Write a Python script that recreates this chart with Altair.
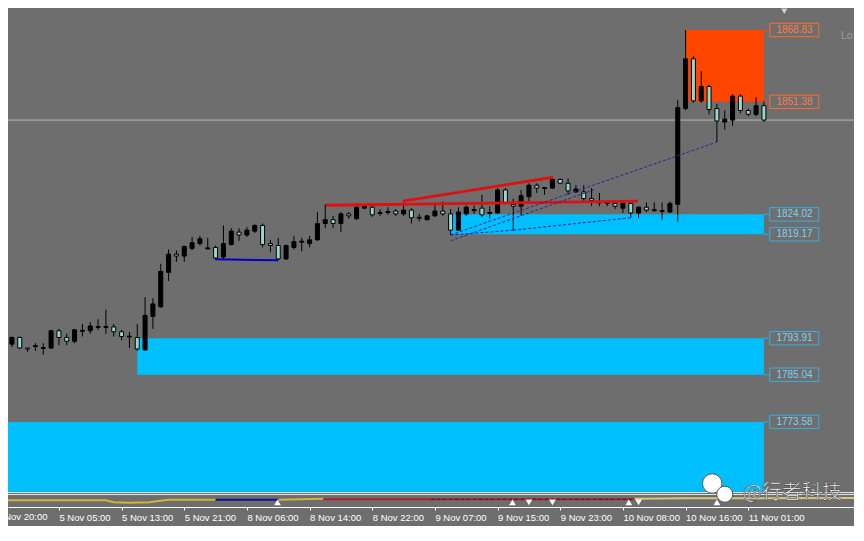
import altair as alt
import pandas as pd

BG = "#6e6e6e"
AQUA = "#97d6cf"
CYAN = "#00bfff"
ORANGE = "#ff4500"

# ---------------- candle data (hourly bars, index 0..96) ----------------
opens = [1792.47, 1794.10, 1791.54, 1791.89, 1791.42, 1791.54, 1795.73, 1794.10, 1793.17, 1795.61,
         1795.73, 1796.54, 1796.54, 1796.66, 1795.49, 1794.21, 1794.10, 1791.07, 1799.22, 1801.55,
         1809.93, 1814.35, 1813.89, 1815.75, 1816.91, 1815.63, 1815.98, 1813.65, 1816.68, 1819.71,
         1819.01, 1819.94, 1821.34, 1816.91, 1816.45, 1813.19, 1815.98, 1817.26, 1816.91, 1817.84,
         1821.80, 1822.73, 1821.80, 1824.13, 1822.96, 1825.53, 1825.76, 1824.24, 1824.48, 1824.83,
         1824.13, 1825.06, 1823.08, 1822.73, 1823.66, 1824.83, 1824.13, 1820.17, 1824.13, 1824.94,
         1825.53, 1824.24, 1824.36, 1829.95, 1826.46, 1825.99, 1828.32, 1831.11, 1830.30, 1830.41,
         1832.51, 1831.58, 1829.48, 1829.48, 1827.85, 1826.81, 1826.92, 1826.69, 1825.53, 1826.69,
         1824.36, 1825.76, 1824.94, 1824.71, 1824.59, 1826.46, 1849.74, 1861.84, 1851.60, 1855.09,
         1849.74, 1846.48, 1846.94, 1852.76, 1849.27, 1848.34, 1850.43]
highs = [1794.33, 1794.33, 1791.54, 1792.70, 1792.70, 1795.96, 1796.19, 1795.03, 1796.19, 1797.36,
         1797.82, 1798.52, 1800.85, 1797.36, 1795.96, 1795.49, 1797.36, 1803.87, 1803.64, 1812.02,
         1815.51, 1815.28, 1816.45, 1818.54, 1818.77, 1818.31, 1816.45, 1821.34, 1820.64, 1820.64,
         1820.87, 1821.57, 1821.80, 1817.84, 1818.31, 1816.68, 1818.77, 1818.31, 1818.77, 1824.59,
         1826.46, 1823.66, 1824.59, 1824.59, 1826.69, 1826.22, 1826.22, 1825.29, 1825.76, 1825.29,
         1826.92, 1825.53, 1824.13, 1823.90, 1826.46, 1827.15, 1825.29, 1825.76, 1826.22, 1826.22,
         1828.78, 1825.99, 1830.41, 1830.41, 1827.85, 1829.95, 1831.58, 1831.58, 1830.65, 1832.97,
         1832.74, 1832.74, 1831.11, 1831.11, 1830.41, 1829.25, 1827.15, 1827.15, 1826.92, 1826.92,
         1825.99, 1826.92, 1826.92, 1826.92, 1827.15, 1851.83, 1868.83, 1862.54, 1858.82, 1855.56,
         1850.90, 1849.27, 1853.23, 1853.23, 1849.74, 1852.53, 1851.60]
lows = [1791.77, 1791.30, 1790.61, 1790.84, 1789.91, 1791.30, 1792.23, 1792.23, 1792.70, 1794.33,
        1795.03, 1795.96, 1795.03, 1794.33, 1793.40, 1791.54, 1790.84, 1790.84, 1796.19, 1801.31,
        1807.83, 1812.49, 1812.49, 1815.28, 1816.45, 1815.51, 1812.95, 1813.19, 1816.45, 1817.61,
        1818.54, 1819.47, 1815.98, 1814.82, 1812.95, 1812.95, 1815.51, 1815.05, 1815.98, 1817.61,
        1820.64, 1820.64, 1819.71, 1822.96, 1822.73, 1825.29, 1823.43, 1823.66, 1823.90, 1823.66,
        1823.66, 1821.80, 1822.27, 1822.50, 1823.43, 1823.66, 1819.01, 1819.94, 1823.66, 1824.13,
        1823.43, 1822.96, 1824.13, 1826.46, 1820.17, 1823.66, 1827.15, 1829.25, 1828.78, 1830.18,
        1831.35, 1828.78, 1829.25, 1827.15, 1825.99, 1825.99, 1825.99, 1825.29, 1824.36, 1823.20,
        1823.20, 1824.59, 1824.59, 1822.73, 1824.36, 1822.27, 1849.27, 1851.13, 1851.13, 1848.34,
        1841.59, 1844.61, 1845.55, 1848.57, 1847.87, 1847.87, 1846.48]
closes = [1794.10, 1791.54, 1791.30, 1792.12, 1791.65, 1795.73, 1794.10, 1793.17, 1795.96, 1795.84,
          1796.89, 1796.77, 1796.77, 1795.49, 1794.33, 1794.45, 1791.30, 1799.45, 1802.25, 1810.16,
          1814.35, 1813.89, 1816.21, 1817.14, 1818.08, 1815.86, 1813.42, 1816.91, 1819.94, 1819.01,
          1820.17, 1821.34, 1816.68, 1816.45, 1813.19, 1816.45, 1817.38, 1817.49, 1817.84, 1821.80,
          1822.73, 1821.80, 1824.13, 1823.66, 1825.76, 1825.99, 1823.90, 1824.48, 1824.71, 1824.13,
          1825.06, 1823.20, 1823.31, 1823.66, 1824.83, 1824.13, 1820.17, 1824.59, 1825.76, 1825.18,
          1823.90, 1824.48, 1829.95, 1826.92, 1825.99, 1828.55, 1831.11, 1830.41, 1830.53, 1832.51,
          1831.58, 1829.72, 1830.18, 1827.85, 1827.39, 1827.04, 1826.69, 1825.99, 1826.69, 1824.36,
          1825.76, 1825.06, 1825.18, 1824.94, 1826.69, 1849.97, 1861.84, 1851.60, 1855.09, 1849.50,
          1846.71, 1847.18, 1852.76, 1849.27, 1848.34, 1850.43, 1846.94]

# x-axis ticks (bar index) and their labels
tick_k = [6, 14, 22, 30, 38, 46, 54, 62, 70, 78, 86, 94]
tick_labels = ["5 Nov 05:00", "5 Nov 13:00", "5 Nov 21:00", "8 Nov 06:00",
               "8 Nov 14:00", "8 Nov 22:00", "9 Nov 07:00", "9 Nov 15:00", "9 Nov 23:00",
               "10 Nov 08:00", "10 Nov 16:00", "11 Nov 01:00"]
first_tick_k = -2
first_tick_label = "4 Nov 20:00"

# supply / demand zones
zone_from = [86, 56, 16, -0.5]
zone_to = [96, 96, 96, 96]
zone_low = [1851.38, 1819.17, 1785.04, 1756.62]
zone_high = [1868.83, 1824.02, 1793.91, 1773.58]
zone_kind = ["supply", "demand", "demand", "demand"]

# price labels of the zones
label_price = [1868.83, 1851.38, 1824.02, 1819.17, 1793.91, 1785.04, 1773.58]
label_kind = ["supply", "supply", "demand", "demand", "demand", "demand", "demand"]

# current bid line
bid_price = 1846.94

# trend lines
red_seg = ["a", "a", "b", "b"]
red_k = [40.1, 79.9, 49.9, 69.1]
red_p = [1826.24, 1827.22, 1827.22, 1833.04]
blue_k = [26, 34]
blue_p = [1813.10, 1812.85]
dash_seg = ["d1", "d1", "d2", "d2", "d3", "d3", "d4", "d4"]
dash_k = [56, 90, 56, 74.3, 56, 64, 64, 79]
dash_p = [1819.01, 1841.59, 1817.60, 1830.00, 1819.01, 1820.17, 1820.17, 1823.20]

# indicator strip (drawn in the bottom band)
ind_seg = ["y1"] * 7 + ["b"] * 2 + ["y2"] * 2 + ["r"] * 2 + ["y3"] * 3
ind_k = [-0.5, 12, 13, 15, 17.5, 20, 26, 26, 34, 34, 39.75, 39.75, 79.5, 79.5, 86, 107.5]
ind_v = [1754.52, 1754.52, 1754.05, 1753.94, 1754.05, 1754.64, 1754.64, 1754.64, 1754.64,
         1754.64, 1754.87, 1754.75, 1754.75, 1754.87, 1754.99, 1755.10]
ind_color = {"y1": "#d2b43c", "b": "#10109a", "y2": "#d2b43c", "r": "#b0202a", "y3": "#d8c878"}
sig_k = [33.9, 63.9, 78.75, 90, 66, 69, 80]
sig_shape = ["up", "up", "up", "up", "down", "down", "down"]
sig_v = 1754.0

# ---------------- frames ----------------
candles = pd.DataFrame({"k": list(range(len(opens))), "open": opens, "high": highs,
                        "low": lows, "close": closes})
zones = pd.DataFrame({"k1": zone_from, "k2": zone_to, "lo": zone_low, "hi": zone_high,
                      "kind": zone_kind})
labels = pd.DataFrame({"price": label_price, "kind": label_kind})
reds = pd.DataFrame({"seg": red_seg, "k": red_k, "p": red_p})
blues = pd.DataFrame({"k": blue_k, "p": blue_p})
dashes = pd.DataFrame({"seg": dash_seg, "k": dash_k, "p": dash_p})
ind = pd.DataFrame({"seg": ind_seg, "k": ind_k, "v": ind_v})
sigs = pd.DataFrame({"k": sig_k, "shape": sig_shape, "v": [sig_v] * len(sig_k)})

# ---------------- scales ----------------
W, H = 846, 499
XD = [-0.5, 107.5]
YD = [1752.89, 1874.18]
xs = alt.Scale(domain=XD, nice=False, zero=False, padding=0)
ys = alt.Scale(domain=YD, nice=False, zero=False, padding=0)

expr = "''"
for kk, ll in reversed(list(zip(tick_k, tick_labels))):
    expr = f"datum.value == {kk} ? '{ll}' : ({expr})"

AX_FONT = "Liberation Sans"
AX_SIZE = 9.5
x_axis = alt.Axis(values=tick_k, labelExpr=expr, labelAlign="left", labelBaseline="top",
                  labelColor="white", labelFont=AX_FONT, labelFontSize=AX_SIZE,
                  labelPadding=2, tickColor="white", tickSize=3, domainColor="white",
                  domainWidth=1, grid=False, labelOverlap=False, labelFlush=False,
                  labelBound=False, title=None)


def X(field):
    return alt.X(field, scale=xs, axis=x_axis)


def Y(field):
    return alt.Y(field, scale=ys, axis=None)


kind_color = alt.Color("kind:N", scale=alt.Scale(domain=["supply", "demand"],
                                                 range=[ORANGE, CYAN]), legend=None)

zone_layer = alt.Chart(zones).mark_rect().encode(
    x=X("k1:Q"), x2="k2:Q", y=Y("lo:Q"), y2="hi:Q", color=kind_color)

bid_layer = alt.Chart(pd.DataFrame({"p": [bid_price]})).mark_rule(
    color="#b9b9b9", strokeWidth=1).encode(
    x=alt.value(0), x2=alt.value(W), y=Y("p:Q"))

sep_layer = alt.Chart(pd.DataFrame({"p": [1756.40, 1755.92]})).mark_rule(
    color="#e8e8e8", strokeWidth=1).encode(x=alt.value(0), x2=alt.value(W), y=Y("p:Q"))

ind_layer = alt.Chart(ind).mark_line(strokeWidth=2).encode(
    x=X("k:Q"), y=Y("v:Q"), detail="seg:N",
    color=alt.Color("seg:N", scale=alt.Scale(domain=list(ind_color.keys()),
                                             range=list(ind_color.values())), legend=None))

ind_dash = alt.Chart(pd.DataFrame({"k": [53.5, 79.5], "v": [1754.75, 1754.75]})).mark_line(
    strokeWidth=1, color="#2a2a2a", strokeDash=[3, 3]).encode(x=X("k:Q"), y=Y("v:Q"))

sig_layer = alt.Chart(sigs).mark_point(filled=True, size=45, opacity=1).encode(
    x=X("k:Q"), y=Y("v:Q"),
    shape=alt.Shape("shape:N", scale=alt.Scale(domain=["up", "down"],
                                               range=["triangle-up", "triangle-down"]),
                    legend=None),
    color=alt.value("white"))

base = alt.Chart(candles).transform_calculate(
    dir="datum.close >= datum.open ? 'up' : 'down'")

wick_layer = base.mark_rule(color="black", strokeWidth=1).encode(
    x=X("k:Q"), y=Y("low:Q"), y2="high:Q")

body_layer = base.mark_bar(size=4, stroke="black", strokeWidth=1).encode(
    x=X("k:Q"), y=Y("open:Q"), y2="close:Q",
    color=alt.Color("dir:N", scale=alt.Scale(domain=["up", "down"], range=["#000000", AQUA]),
                    legend=None))

red_layer = alt.Chart(reds).mark_line(color="#e01010", strokeWidth=2.8).encode(
    x=X("k:Q"), y=Y("p:Q"), detail="seg:N")

blue_layer = alt.Chart(blues).mark_line(color="#0000c8", strokeWidth=2).encode(
    x=X("k:Q"), y=Y("p:Q"))

dash_layer = alt.Chart(dashes).mark_line(color="#25259a", strokeWidth=1,
                                         strokeDash=[3, 2]).encode(
    x=X("k:Q"), y=Y("p:Q"), detail="seg:N")

lab_base = alt.Chart(labels).transform_calculate(
    lo="datum.price - 1.63", hi="datum.price + 1.63", a="96", b="96.75", c="103")

conn_layer = lab_base.mark_rule(strokeWidth=1).encode(
    x=X("a:Q"), x2="b:Q", y=Y("price:Q"), color=kind_color)

box_layer = lab_base.mark_rect(fill=BG, strokeWidth=1, fillOpacity=1).encode(
    x=X("b:Q"), x2="c:Q", y=Y("lo:Q"), y2="hi:Q",
    stroke=alt.Stroke("kind:N", scale=alt.Scale(domain=["supply", "demand"],
                                                range=["#ff6a30", "#3aaee0"]), legend=None))

text_layer = lab_base.transform_calculate(m="99.9").mark_text(
    font="Liberation Sans", fontSize=10, align="center", baseline="middle").encode(
    x=X("m:Q"), y=Y("price:Q"), text=alt.Text("price:Q", format=".2f"),
    color=alt.Color("kind:N", scale=alt.Scale(domain=["supply", "demand"],
                                              range=["#ff7a40", "#7fd0f0"]), legend=None))

# first (partly hidden) time label, left of the visible range
first_label = alt.Chart(pd.DataFrame({"k": [first_tick_k], "t": [first_tick_label]})).mark_text(
    font=AX_FONT, fontSize=AX_SIZE, align="left", baseline="top", color="white").encode(
    x=X("k:Q"), y=alt.value(H + 5), text="t:N")

# watermark
wm_logo = alt.Chart(pd.DataFrame({"k": [89.4, 91.0], "v": [1758.6, 1756.0],
                                  "s": [380, 260]})).mark_point(
    filled=True, color="white", stroke="#555555", strokeWidth=1, opacity=1).encode(
    x=X("k:Q"), y=Y("v:Q"), size=alt.Size("s:Q", scale=None, legend=None))

wm_text = alt.Chart(pd.DataFrame({"k": [93.3], "v": [1756.3], "t": ["@行者科技"]})).mark_text(
    font="Noto Sans CJK SC", fontSize=20, align="left", baseline="middle", color="white",
    stroke="#444444", strokeWidth=0.6).encode(x=X("k:Q"), y=Y("v:Q"), text="t:N")

misc_tri = alt.Chart(pd.DataFrame({"k": [98.6], "v": [1873.4]})).mark_point(
    shape="triangle-down", filled=True, size=40, color="#d0d0d0", opacity=1).encode(
    x=X("k:Q"), y=Y("v:Q"))

misc_txt = alt.Chart(pd.DataFrame({"k": [105.8], "v": [1867.4], "t": ["Lo"]})).mark_text(
    font="Liberation Sans", fontSize=11, align="left", baseline="middle",
    color="#9c9c9c").encode(x=X("k:Q"), y=Y("v:Q"), text="t:N")

chart = alt.layer(
    zone_layer, bid_layer, sep_layer, ind_layer, ind_dash, sig_layer,
    wick_layer, body_layer, red_layer, blue_layer, dash_layer,
    conn_layer, box_layer, text_layer, first_label, wm_logo, wm_text, misc_tri, misc_txt
).resolve_scale(color="independent", shape="independent", stroke="independent").properties(
    width=W, height=H, background=BG,
    padding={"left": 0, "top": 0, "right": 0, "bottom": 19},
    autosize=alt.AutoSizeParams(type="none")
).configure_view(strokeWidth=0, fill=BG)

chart.save("out.html", embed_options={"renderer": "svg", "actions": False})
